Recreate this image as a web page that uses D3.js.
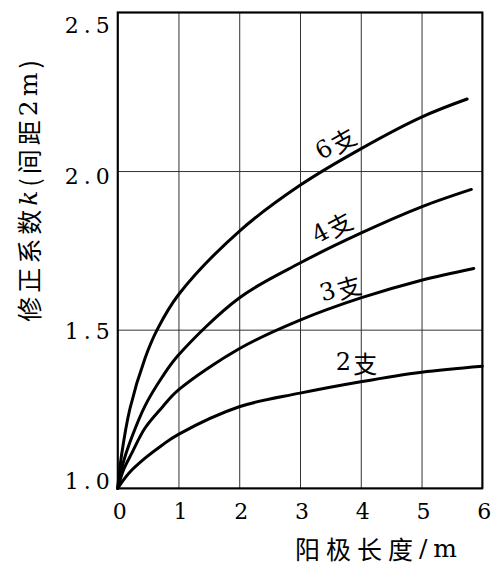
<!DOCTYPE html>
<html>
<head>
<meta charset="utf-8">
<script src="https://cdn.jsdelivr.net/npm/d3@7/dist/d3.min.js"></script>
<style>
  body { margin: 0; background: #fff; }
  svg { display: block; }
</style>
</head>
<body>
<div id="chart"></div>
<script>
// x = anode length (m), k = correction factor
var x2 = [0, 0.18, 0.45, 0.73, 1, 2, 3, 4, 5, 6];
var k2 = [1.0, 1.047, 1.095, 1.136, 1.17, 1.257, 1.30, 1.336, 1.366, 1.385];
var x3 = [0, 0.1, 0.23, 0.45, 0.73, 1, 2, 3, 4, 5, 5.86];
var k3 = [1.0, 1.06, 1.11, 1.19, 1.255, 1.31, 1.44, 1.53, 1.60, 1.656, 1.693];
var x4 = [0, 0.09, 0.23, 0.45, 0.73, 1, 2, 3, 4, 5, 5.82];
var k4 = [1.0, 1.08, 1.16, 1.26, 1.35, 1.42, 1.60, 1.71, 1.804, 1.887, 1.942];
var x6 = [0, 0.06, 0.2, 0.45, 0.65, 1, 2, 3, 4, 5, 5.75];
var k6 = [1.0, 1.10, 1.25, 1.41, 1.50, 1.61, 1.81, 1.955, 2.07, 2.17, 2.227];

var seriesNames = ["2支", "3支", "4支", "6支"];
// where each curve label sits, in data units
var labelX = [3.93, 3.66, 3.52, 3.58];
var labelK = [1.399, 1.631, 1.824, 2.088];
var labelAngle = [0, -16, -28, -30];

var xTicks = [0, 1, 2, 3, 4, 5, 6];
var yTicks = [1.0, 1.5, 2.0, 2.5];
var yTickShift = [-7, 2, 5, 13];   // the print sets these labels a bit off the lines

var serif = "DejaVu Serif, Liberation Serif, serif";
var cjk = "Noto Sans CJK SC, sans-serif";

var W = 504, H = 570;
var margin = {top: 12.4, right: 21.7, bottom: 81.7, left: 117.7};
var width = W - margin.left - margin.right,
    height = H - margin.top - margin.bottom;

var svg = d3.select("#chart").append("svg")
    .attr("width", W).attr("height", H)
  .append("g")
    .attr("transform", "translate(" + margin.left + "," + margin.top + ")");

var x = d3.scaleLinear().domain([0, 6]).range([0, width]);
var y = d3.scaleLinear().domain([1.0, 2.5]).range([height, 0]);

// grid
svg.append("g")
  .attr("transform", "translate(0," + height + ")")
  .call(d3.axisBottom(x).tickValues(xTicks).tickSize(-height).tickFormat(""))
  .call(function(g) { g.select(".domain").remove(); })
  .selectAll("line").attr("stroke", "#333").attr("stroke-width", 1);

svg.append("g")
  .call(d3.axisLeft(y).tickValues(yTicks).tickSize(-width).tickFormat(""))
  .call(function(g) { g.select(".domain").remove(); })
  .selectAll("line").attr("stroke", "#333").attr("stroke-width", 1);

// frame
svg.append("rect")
  .attr("x", 0).attr("y", 0)
  .attr("width", width).attr("height", height)
  .attr("fill", "none").attr("stroke", "#000").attr("stroke-width", 2);

// tick labels
svg.selectAll(".xt").data(xTicks).enter().append("text")
  .attr("x", function(d) { return x(d) + 2; })
  .attr("y", height + 23)
  .attr("text-anchor", "middle")
  .attr("dominant-baseline", "central")
  .style("font-family", serif)
  .style("font-size", "22px")
  .text(function(d) { return d; });

svg.selectAll(".yt").data(yTicks).enter().append("text")
  .attr("x", -3)
  .attr("y", function(d, i) { return y(d) + yTickShift[i]; })
  .attr("text-anchor", "end")
  .attr("dominant-baseline", "central")
  .style("font-family", serif)
  .style("font-size", "22px")
  .style("letter-spacing", "5px")
  .text(function(d) { return d.toFixed(1); });

// curves
var line = d3.line()
  .x(function(d) { return x(d[0]); })
  .y(function(d) { return y(d[1]); })
  .curve(d3.curveCatmullRom.alpha(0.5));

var series = [d3.zip(x2, k2), d3.zip(x3, k3), d3.zip(x4, k4), d3.zip(x6, k6)];

svg.selectAll(".curve").data(series).enter().append("path")
  .attr("fill", "none")
  .attr("stroke", "#000")
  .attr("stroke-width", 3)
  .attr("stroke-linecap", "round")
  .attr("d", line);

// curve labels
seriesNames.forEach(function(name, i) {
  var t = svg.append("text")
    .attr("transform", "translate(" + x(labelX[i]) + "," + y(labelK[i]) + ") rotate(" + labelAngle[i] + ")")
    .attr("text-anchor", "middle")
    .attr("dominant-baseline", "central")
    .style("font-size", "24px");
  t.append("tspan").style("font-family", serif).text(name.slice(0, 1));
  t.append("tspan").style("font-family", cjk).attr("dx", 2).text(name.slice(1));
});

// axis titles
var xt = svg.append("text")
  .attr("x", x(4.3))
  .attr("y", height + 60)
  .attr("text-anchor", "middle")
  .attr("dominant-baseline", "central")
  .style("font-size", "25px")
  .style("letter-spacing", "6px");
xt.append("tspan").style("font-family", cjk).text("阳极长度");
xt.append("tspan").style("font-family", serif).text("/m");

var yt = svg.append("text")
  .attr("transform", "translate(" + (28 - margin.left) + "," + (189 - margin.top) + ") rotate(-90)")
  .attr("text-anchor", "middle")
  .attr("dominant-baseline", "central")
  .style("font-size", "25px")
  .style("letter-spacing", "4px");
yt.append("tspan").style("font-family", cjk).text("修正系数");
yt.append("tspan").style("font-family", serif).style("font-style", "italic").text("k");
yt.append("tspan").style("font-family", cjk).text("(间距");
yt.append("tspan").style("font-family", serif).text("2m");
yt.append("tspan").style("font-family", cjk).text(")");
</script>
</body>
</html>
